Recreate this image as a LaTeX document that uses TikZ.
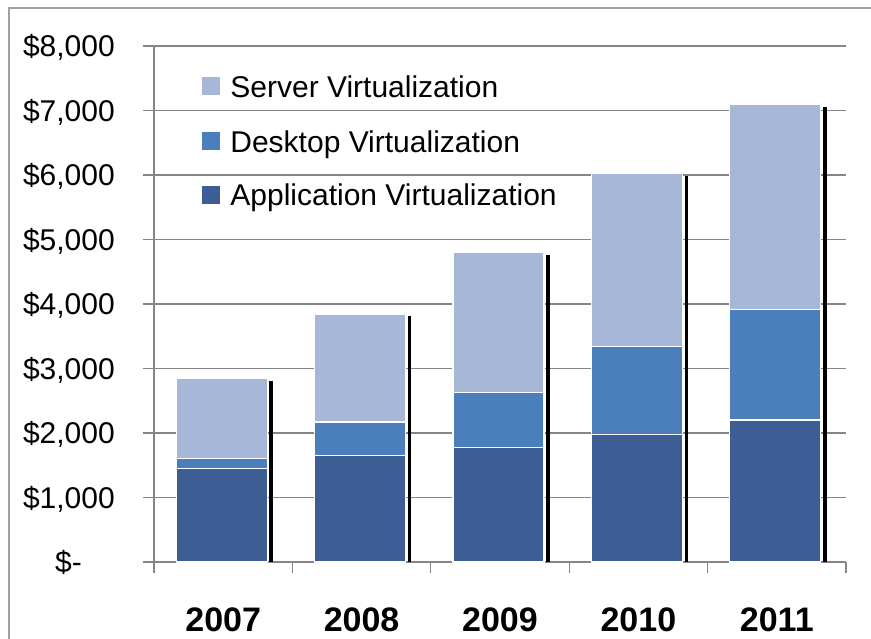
\documentclass[tikz,border=0pt]{standalone}
\usepackage{fontspec}
\setmainfont{Liberation Sans}
\usepackage{xcolor}
\usetikzlibrary{positioning}
\definecolor{serverblue}{RGB}{166, 183, 216}
\definecolor{desktopblue}{RGB}{74, 126, 188}
\definecolor{appblue}{RGB}{60, 94, 148}
\definecolor{gridgray}{RGB}{134, 134, 134}
\definecolor{framegray}{RGB}{160, 160, 160}

% one thousand dollars on the value axis
\def\unitk{64.5}

\begin{document}
\begin{tikzpicture}[
    x=1pt, y=1pt,
    grid_line/.style={draw=gridgray, line width=1.3pt},
    seg/.style={draw=white, line width=1.2pt},
    shadow_bar/.style={draw=black, line width=3.6pt},
    tick_label/.style={anchor=east, inner sep=0pt, text height=21.5pt, text depth=0pt,
        font=\fontsize{30}{32}\selectfont},
    year_label/.style={inner sep=0pt, text height=24pt, text depth=0pt,
        font=\fontsize{34}{36}\selectfont\bfseries},
    key_box/.style={rectangle, minimum size=18pt, inner sep=0pt},
    key_text/.style={anchor=west, inner sep=0pt, text height=21.5pt, text depth=0pt,
        font=\fontsize{30}{32}\selectfont}
]
    \useasboundingbox (-154, -77) rectangle (717, 562);

    % Outer chart frame
    \draw[framegray, line width=1.6pt] (-145, -77) -- (-145, 554) -- (717, 554);

    % --- Gridlines, axes and ticks ---
    \foreach \k in {1,...,8}
        \draw[grid_line] (-11, \k*\unitk) -- (692, \k*\unitk);
    \draw[grid_line] (0, 0) -- (0, 8*\unitk);
    \draw[grid_line] (-11, 0) -- (692, 0);
    \foreach \k in {0,...,5}
        \draw[grid_line] (\k*138.4, 0) -- (\k*138.4, -11);

    % Value axis labels
    \foreach \k in {1,...,8}
        \node[tick_label] (lbl\k) at (-39, \k*\unitk) {\$\k,000};
    \node[tick_label] (lbl0) at (-72, 0) {\$-};

    % --- Stacked bars: application / desktop / server, in $ thousands ---
    \foreach \yr/\c/\a/\d/\s in {2007/69.2/1.45/1.60/2.84,
                                 2008/207.6/1.65/2.17/3.845,
                                 2009/346.0/1.78/2.625/4.80,
                                 2010/484.4/1.98/3.34/6.03,
                                 2011/622.8/2.20/3.91/7.10} {
        \draw[shadow_bar] (\c+48, 0) -- (\c+48, \s*\unitk-2.5);
        \draw[seg, fill=appblue] (\c-47, 0) rectangle (\c+44, \a*\unitk);
        \draw[seg, fill=desktopblue] (\c-47, \a*\unitk) rectangle (\c+44, \d*\unitk);
        \draw[seg, fill=serverblue] (\c-47, \d*\unitk) rectangle (\c+44, \s*\unitk);
        \node[year_label] (yr\yr) at (\c, -58) {\yr};
    }

    % --- Legend ---
    \node[key_box, fill=serverblue] (key_server) at (57, 475.5) {};
    \node[key_box, fill=desktopblue, below=36.5pt of key_server] (key_desktop) {};
    \node[key_box, fill=appblue, below=35pt of key_desktop] (key_app) {};
    \node[key_text, right=10pt of key_server] (txt_server) {Server Virtualization};
    \node[key_text, right=10pt of key_desktop] (txt_desktop) {Desktop Virtualization};
    \node[key_text, right=10pt of key_app] (txt_app) {Application Virtualization};

\end{tikzpicture}
\end{document}
